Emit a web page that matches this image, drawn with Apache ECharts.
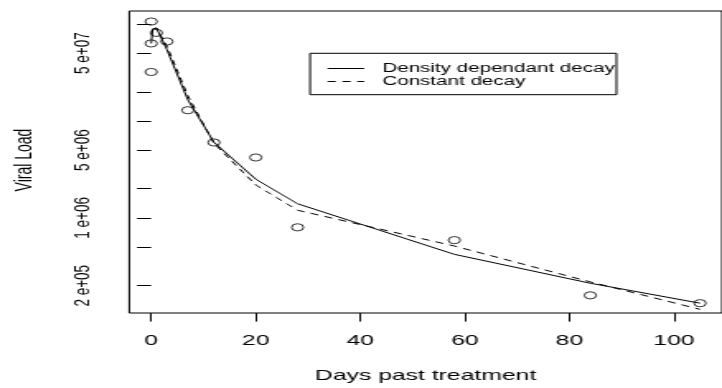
<!DOCTYPE html>
<html>
<head>
<meta charset="utf-8">
<script src="https://cdn.jsdelivr.net/npm/echarts@6/dist/echarts.min.js"></script>
<style>
  html, body { margin: 0; padding: 0; overflow: hidden; background: #fff; }
  /* the reference is stretched sideways, so draw narrow and widen it */
  #main { width: 438px; height: 388px; transform: scaleX(1.6484); transform-origin: 0 0; }
</style>
</head>
<body>
<div id="main"></div>
<script>
// observed viral loads
var pointDays = [0, 0, 0, 1, 3, 7, 12, 20, 28, 58, 84, 105]
var pointLoad = [1.06e8, 6.3e7, 3.2e7, 8.1e7, 6.6e7, 1.29e7, 6.0e6, 4.2e6, 8.0e5, 5.9e5, 1.59e5, 1.32e5]

// density dependant decay fit
var solidDays = [0, 0.3, 1, 3, 7, 12, 20, 28, 58, 84, 105]
var solidLoad = [6.3e7, 8.9e7, 9.1e7, 5.46e7, 1.66e7, 6.03e6, 2.51e6, 1.40e6, 4.21e5, 2.12e5, 1.32e5]

// constant decay fit
var dashDays = [0.3, 1, 3, 7, 12, 20, 28, 58, 84, 105]
var dashLoad = [8.9e7, 9.1e7, 5.9e7, 1.82e7, 5.9e6, 2.19e6, 1.20e6, 5.13e5, 2.19e5, 1.14e5]

var xTicks = [0, 20, 40, 60, 80, 100]
var yTicks = [2e5, 5e5, 1e6, 2e6, 5e6, 1e7, 2e7, 5e7, 1e8]
var yLabels = [2e5, 1e6, 5e6, 5e7]

var seriesNames = ['Density dependant decay', 'Constant decay']

function pairs(days, load) {
  var out = []
  for (var i = 0; i < days.length; i++) {
    out.push([days[i], Math.log10(load[i])])
  }
  return out
}

function sciLabel(v) {
  var e = Math.floor(v + 1e-9)
  var m = Math.round(Math.pow(10, v - e))
  return m + ' e+' + (e < 10 ? '0' + e : e)
}

var font = 'Liberation Sans, Arial, Helvetica, sans-serif'

var myChart = echarts.init(document.getElementById('main'))
var option = {
  animation: false,
  textStyle: { fontFamily: font, color: '#000' },
  grid: {
    left: 78.4, top: 11, width: 362.4, height: 304,
    show: true, borderColor: '#000', borderWidth: 1, backgroundColor: 'transparent'
  },
  legend: {
    data: seriesNames,
    orient: 'vertical',
    left: 188.1, top: 53.3,
    padding: [8.7, 1, 6.7, 10.1],
    itemWidth: 22.2, itemHeight: 14, itemGap: 0,
    borderColor: '#000', borderWidth: 1,
    itemStyle: { opacity: 0 },
    lineStyle: { width: 1 },
    textStyle: { fontFamily: font, fontSize: 12.5, color: '#000', padding: [0, 0, 0, 6] }
  },
  xAxis: {
    type: 'value',
    min: -4.2, max: 109.2,
    name: 'Days past treatment',
    nameLocation: 'middle', nameGap: 55,
    nameTextStyle: { fontFamily: font, fontSize: 15, color: '#000' },
    axisLine: { show: false },
    splitLine: { show: false },
    axisTick: { show: true, length: 8.6, customValues: xTicks, lineStyle: { color: '#000', width: 1 } },
    axisLabel: { customValues: xTicks, margin: 20, fontSize: 15, color: '#000', fontFamily: font }
  },
  yAxis: {
    type: 'value',
    min: 5.0195, max: 8.134,
    name: 'Viral Load',
    nameLocation: 'middle', nameGap: 56,
    nameTextStyle: { fontFamily: font, fontSize: 14, color: '#000', padding: [0, 0, 0, 4] },
    axisLine: { show: false },
    splitLine: { show: false },
    axisTick: { show: true, length: 8.6, customValues: yTicks.map(Math.log10), lineStyle: { color: '#000', width: 1 } },
    axisLabel: {
      customValues: yLabels.map(Math.log10),
      rotate: 90, margin: 21, fontSize: 13.5, color: '#000', fontFamily: font,
      formatter: sciLabel
    }
  },
  series: [
    {
      name: 'observed',
      type: 'scatter',
      symbol: 'circle',
      symbolSize: 7.2,
      itemStyle: { color: 'rgba(0,0,0,0)', borderColor: '#000', borderWidth: 1 },
      data: pairs(pointDays, pointLoad)
    },
    {
      name: seriesNames[0],
      type: 'line',
      symbol: 'none',
      color: '#000',
      lineStyle: { color: '#000', width: 1 },
      data: pairs(solidDays, solidLoad)
    },
    {
      name: seriesNames[1],
      type: 'line',
      symbol: 'none',
      color: '#000',
      lineStyle: { color: '#000', width: 1, type: [5, 4] },
      data: pairs(dashDays, dashLoad)
    }
  ]
}
myChart.setOption(option)
</script>
</body>
</html>
